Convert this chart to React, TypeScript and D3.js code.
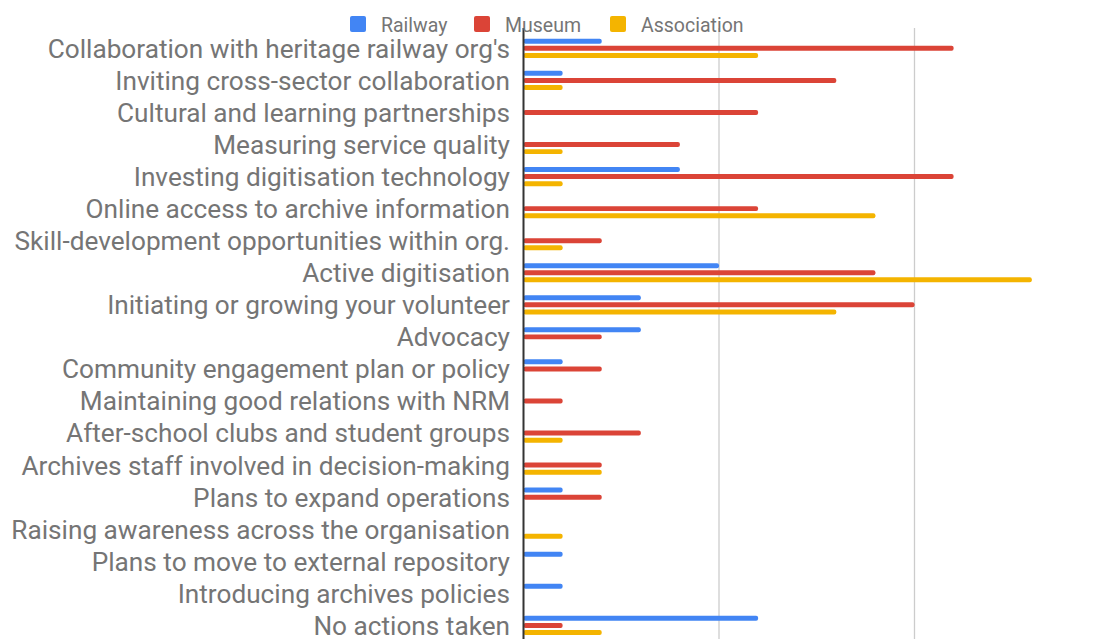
import React from "react";
import * as d3 from "d3";

const categories = [
  "Collaboration with heritage railway org's",
  "Inviting cross-sector collaboration",
  "Cultural and learning partnerships",
  "Measuring service quality",
  "Investing digitisation technology",
  "Online access to archive information",
  "Skill-development opportunities within org.",
  "Active digitisation",
  "Initiating or growing your volunteer",
  "Advocacy",
  "Community engagement plan or policy",
  "Maintaining good relations with NRM",
  "After-school clubs and student groups",
  "Archives staff involved in decision-making",
  "Plans to expand operations",
  "Raising awareness across the organisation",
  "Plans to move to external repository",
  "Introducing archives policies",
  "No actions taken",
];
const railway = [2, 1, 0, 0, 4, 0, 0, 5, 3, 3, 1, 0, 0, 0, 1, 0, 1, 1, 6];
const museum = [11, 8, 6, 4, 11, 6, 2, 9, 10, 2, 2, 1, 3, 2, 2, 0, 0, 0, 1];
const association = [6, 1, 0, 1, 1, 9, 1, 13, 8, 0, 0, 0, 1, 2, 0, 1, 0, 0, 2];
const seriesNames = ["Railway", "Museum", "Association"];
const seriesColors = ["#4285F4", "#DB4437", "#F4B400"];
const gridTicks = [5, 10, 15];

export default function App() {
  const W = 1099, H = 639;
  const x0 = 523.5;
  const x = d3.scaleLinear().domain([0, 15]).range([x0, x0 + 586.5]);
  const y = d3.scaleBand<string>().domain(categories).range([32.3, 32.3 + 19 * 32.06]).padding(0);
  const inner = d3.scaleBand<number>().domain([0, 1, 2]).range([-9.6, 9.6]).paddingInner(0.3);
  const series = [railway, museum, association];
  const font = "Roboto, 'Noto Sans', sans-serif";
  const legendX = [350, 474, 610];
  return (
    <svg width={W} height={H} style={{ position: "absolute", left: 0, top: 0, background: "#fff" }}>
      {gridTicks.map((t) => (
        <line key={t} x1={x(t)} x2={x(t)} y1={28} y2={H} stroke="#cccccc" strokeWidth={1.3} />
      ))}
      {categories.map((c, i) => {
        const cy = (y(c) as number) + y.bandwidth() / 2;
        return (
          <g key={c}>
            <text x={510} y={cy} dy="0.36em" textAnchor="end" fontFamily={font} fontSize={26.2} fill="#757575">
              {c}
            </text>
            {series.map((s, k) =>
              s[i] > 0 ? (
                <rect
                  key={k}
                  x={x(0)}
                  y={cy + (inner(k) as number)}
                  width={x(s[i]) - x(0)}
                  height={inner.bandwidth()}
                  rx={2}
                  fill={seriesColors[k]}
                />
              ) : null
            )}
          </g>
        );
      })}
      <line x1={x0} x2={x0} y1={28} y2={H} stroke="#333333" strokeWidth={2} />
      {seriesNames.map((n, k) => (
        <g key={n} transform={`translate(${legendX[k]},16)`}>
          <rect x={0} y={0} width={16} height={16} rx={2} fill={seriesColors[k]} />
          <text x={31} y={9} dy="0.36em" fontFamily={font} fontSize={19.5} fill="#757575">
            {n}
          </text>
        </g>
      ))}
    </svg>
  );
}
